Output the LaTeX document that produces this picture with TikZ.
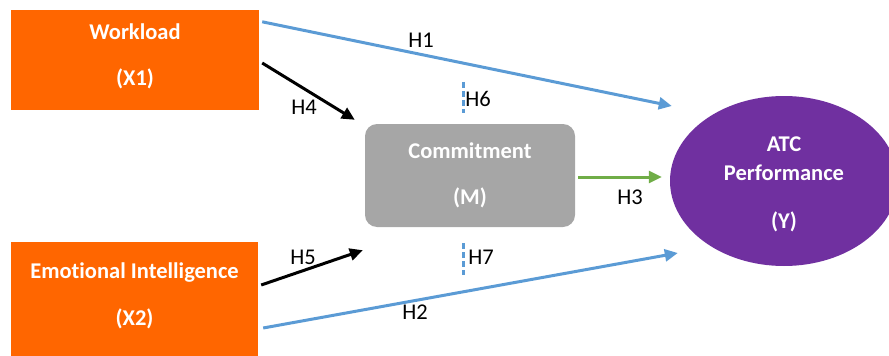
\documentclass[tikz,border=0pt]{standalone}
\usepackage{fontspec}
\setmainfont{Carlito}[Ligatures=NoCommon]
\usetikzlibrary{shapes.geometric,arrows.meta}

\definecolor{varorange}{HTML}{FF6600}
\definecolor{medgray}{HTML}{A6A6A6}
\definecolor{outpurple}{HTML}{7030A0}
\definecolor{hypblue}{HTML}{5B9BD5}
\definecolor{hypgreen}{HTML}{70AD47}

\tikzset{
  varbox/.style={rectangle, fill=varorange, text=white, align=center, inner sep=0pt,
    font=\fontsize{22.5}{27}\selectfont\bfseries},
  medbox/.style={rectangle, rounded corners=12pt, fill=medgray, text=white, align=center, inner sep=0pt,
    font=\fontsize{22.5}{27}\selectfont\bfseries},
  outoval/.style={ellipse, fill=outpurple, text=white, align=center, inner sep=0pt,
    font=\fontsize{22.5}{27}\selectfont\bfseries},
  hyplabel/.style={text=black, inner sep=0pt, font=\fontsize{22.5}{27}\selectfont},
  hyparrow/.style={line width=3pt, -{Triangle[length=13pt,width=12pt]}},
  hypdash/.style={line width=3pt, hypblue, dash pattern=on 6pt off 3pt}
}

\begin{document}
\begin{tikzpicture}[x=1pt, y=-1pt]
        \clip (0,0) rectangle (889,356);

        % Independent variables
        \node[varbox, minimum width=248, minimum height=100] (wl) at (135,60)
            {Workload\\[19pt](X1)\rule[-10pt]{0pt}{0pt}};
        \node[varbox, minimum width=247, minimum height=118] (ei) at (134.5,301)
            {Emotional Intelligence\\[20pt](X2)\rule[-14pt]{0pt}{0pt}};

        % Mediator
        \node[medbox, minimum width=210, minimum height=103] (cm) at (470,175.5)
            {Commitment\\[19pt](M)};

        % Dependent variable (cut off at the right edge)
        \node[outoval, minimum width=228, minimum height=170] (yp) at (784,181)
            {\rule{0pt}{21pt}ATC\\[2pt]Performance\\[21pt](Y)};

        % Free ends of the paths
        \coordinate (h1a) at ([shift={(3,12)}]wl.north east);
        \coordinate (h1b) at ([shift={(2,-75)}]yp.west);
        \coordinate (h4a) at ([shift={(3,3)}]wl.east);
        \coordinate (h4b) at ([shift={(-10,-4)}]cm.north west);
        \coordinate (h5a) at ([shift={(3,-16)}]ei.east);
        \coordinate (h5b) at ([shift={(-2,23)}]cm.south west);
        \coordinate (h2a) at ([shift={(5,27)}]ei.east);
        \coordinate (h2b) at ([shift={(8,72)}]yp.west);
        \coordinate (h3a) at ([shift={(3,1.5)}]cm.east);
        \coordinate (h3b) at ([shift={(-8,-4)}]yp.west);
        \coordinate (h6a) at ([shift={(-7,-42)}]cm.north);
        \coordinate (h6b) at ([shift={(-7,-11)}]cm.north);
        \coordinate (h7a) at ([shift={(-7,16)}]cm.south);
        \coordinate (h7b) at ([shift={(-7,48)}]cm.south);

        % Direct paths
        \draw[hyparrow, hypblue] (h1a) -- (h1b);
        \draw[hyparrow, hypblue] (h2a) -- (h2b);
        \draw[hyparrow, hypgreen] (h3a) -- (h3b);

        % Paths to the mediator
        \draw[hyparrow, black] (h4a) -- (h4b);
        \draw[hyparrow, black] (h5a) -- (h5b);

        % Mediation effects
        \draw[hypdash] (h6a) -- (h6b);
        \draw[hypdash] (h7a) -- (h7b);

        % Hypothesis labels
        \node[hyplabel] (lh1) at (421,40.5) {H1};
        \node[hyplabel] (lh2) at (415,312) {H2};
        \node[hyplabel] (lh3) at (630,197.5) {H3};
        \node[hyplabel] (lh4) at (304,107) {H4};
        \node[hyplabel] (lh5) at (303,257) {H5};
        \node[hyplabel] (lh6) at (478,98.5) {H6};
        \node[hyplabel] (lh7) at (481,257) {H7};
\end{tikzpicture}
\end{document}
